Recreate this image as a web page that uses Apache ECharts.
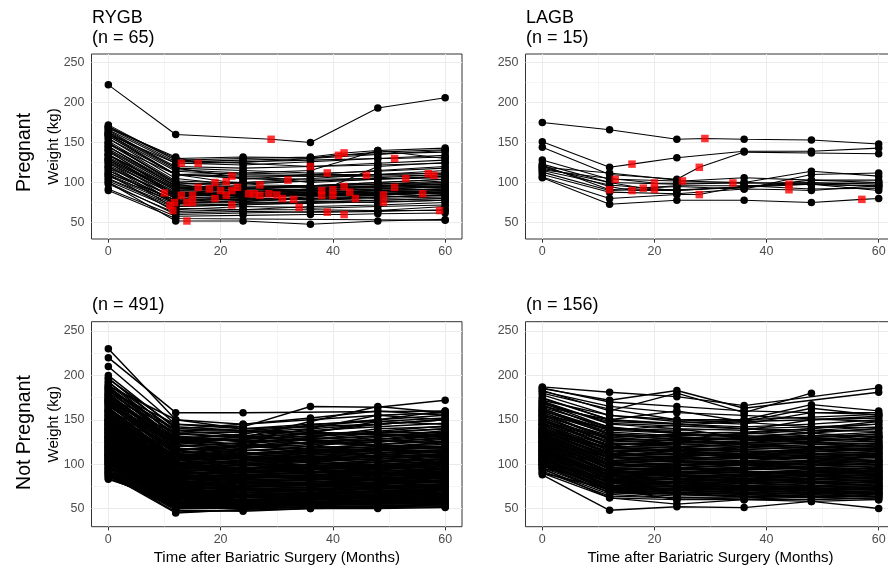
<!DOCTYPE html>
<html>
<head>
<meta charset="utf-8">
<script src="https://cdn.jsdelivr.net/npm/echarts@6/dist/echarts.min.js"></script>
<style>
html,body{margin:0;padding:0;background:#fff;}
#chart{width:888px;height:572px;}
</style>
</head>
<body>
<div id="chart"></div>
<script>
// ---------------- DATA ----------------
const months = [0, 12, 24, 36, 48, 60];
const xTicks = [0, 20, 40, 60];
const yTicks = [50, 100, 150, 200, 250];

const panelTitles = ['RYGB\n(n = 65)', 'LAGB\n(n = 15)', '(n = 491)', '(n = 156)'];
const rowLabels = ['Pregnant', 'Not Pregnant'];
const yTitle = 'Weight (kg)';
const xTitle = 'Time after Bariatric Surgery (Months)';

// Pregnant RYGB: weights at 0,12,24,36,48,60 months
const rygbPregWeights = [
  [222,160,null,150,193,206],[128,85,88,92,95,98],[118,70,72,75,78,80],[110,64,66,70,72,75],
  [125,74,77,80,82,85],[135,82,85,88,90,92],[160,124,122,126,130,134],[100,52,52,48,52,54],
  [120,74,76,80,84,88],[140,84,86,90,94,96],[115,73,78,82,85,87],[168,132,125,130,135,140],
  [150,98,92,95,98,102],[145,95,90,92,96,100],[155,105,98,102,106,110],[112,78,82,84,86,88],
  [138,92,88,90,92,95],[160,110,100,105,110,115],[130,86,82,85,88,90],[165,118,104,110,115,120],
  [142,93,88,92,95,98],[105,70,74,76,78,80],[148,100,92,96,100,104],[132,88,86,87,90,92],
  [126,84,87,88,90,92],[152,102,99,96,100,104],[122,80,84,86,88,90],[134,90,87,84,86,88],
  [118,82,86,83,85,87],[112,78,81,79,82,84],[158,110,105,100,104,108],[108,76,80,78,80,82],
  [102,66,70,68,70,72],[170,128,124,120,124,128],[140,94,92,90,92,94],[128,86,85,84,86,88],
  [162,118,115,112,114,118],[98,62,64,63,64,66],[145,96,93,91,92,95],[124,84,84,84,86,90],
  [168,126,128,130,136,138],[172,128,130,132,140,143],[150,100,96,94,96,98],[92,58,59,60,61,62],
  [135,90,89,88,90,92],[115,78,79,80,82,84],[155,110,108,108,110,112],[130,88,86,85,84,88],
  [110,74,75,76,75,78],[166,124,126,128,130,132],[142,96,94,94,94,96],[158,110,106,104,105,108],
  [128,86,86,86,86,86],[162,116,112,110,110,112],[160,114,110,108,108,110],[104,68,66,66,65,65],
  [170,130,132,131,138,141],[90,55,null,null,null,53],[148,110,112,115,140,130],[100,60,62,null,65,70],
  [145,98,100,102,104,106],[120,80,82,84,120,125],[135,92,94,96,98,100],[108,72,null,74,76,78],
  [163,120,118,120,122,124]
];
// Pregnancy time point [month, weight] per patient (null = none shown)
const rygbPregEvents = [
  [29,154],[10,87],[11,71.5],[11.5,65],[11.8,75],[13,84],[13,124],[14,52],
  [14,75],[15,84],[15,75],[16,124],[16,94],[18,92],[19,100],[19,80],
  [20,90],[21,101],[21,84],[22,108],[22,90],[22,72],[23,94],[25,86],
  [26,86],[27,97],[27,84],[28.6,86],[30,84.5],[31,80],[32,103],[33,79],
  [34,69],[36,120],[38,90],[38,84],[39,112],[39,63],[40,91],[40,84],
  [41,134],[42,137],[42,95],[42,60],[43,88],[44,80],[46,109],[49,84.5],
  [49,75.5],[51,130],[51,94],[53,105],[56,86],[57,111],[58,109],[59,65],
  null,null,null,null,null,null,null,null,null
];

// Pregnant LAGB
const lagbPregWeights = [
  [175,166,154,154,153,148],[151,119,131,139,139,143],[144,110,104,138,137,136],[128,104,102,100,98,95],
  [122,null,96,96,98,100],[120,95,90,94,103,100],[118,100,95,92,110,112],[116,105,99,100,114,108],
  [113,90,91,94,98,96],[119,112,103,106,103,103],[107,80,85,96,92,93],[123,100,98,99,100,98],
  [115,97,90,95,98,90],[110,88,86,92,90,96],[106,73,78,78,75,80]
];
const lagbPregEvents = [
  [29,155],[16,123],[28,119],[13,104],[12,91],[16,90],[18,93],[20,99.5],
  [20,91.5],[25,102],[28,85],[34,99.5],[44,98],[44,91],[57,79]
];

// Not pregnant RYGB (trajectories read from the dense band)
const rygbNotPregWeights = [
  [230,150,140,null,145,150],[220,158,158,null,null,160],[210,145,142,165,164,172],[200,140,145,152,160,155],
  [197,135,130,148,165,158],[193,130,128,140,155,150],[190,132,125,135,148,145],[186,128,122,130,140,142],
  [183,125,120,128,135,140],[180,122,118,125,130,138],[178,118,115,120,128,135],[176,120,124,130,126,132],
  [174,115,110,118,122,128],[172,112,108,112,118,125],[170,110,112,116,120,122],[168,108,104,110,115,120],
  [166,112,118,122,125,130],[164,106,102,105,110,116],[162,104,100,104,108,112],[160,102,98,102,106,110],
  [158,100,96,100,104,108],[157,106,110,114,118,120],[155,98,94,98,102,106],[154,104,106,108,112,115],
  [152,96,92,95,98,102],[151,100,98,104,110,114],[150,94,90,94,96,100],[149,98,104,106,108,112],
  [148,92,88,90,94,98],[147,96,95,100,104,106],[146,90,86,88,92,96],[145,94,96,98,100,104],
  [144,88,84,86,90,94],[143,92,94,96,98,100],[142,87,82,84,88,92],[141,90,90,92,95,98],
  [140,86,80,82,86,90],[139,88,92,94,96,98],[138,84,78,80,84,88],[137,86,88,90,92,95],
  [136,82,76,78,82,86],[135,84,86,88,90,92],[134,80,75,77,80,84],[133,82,84,86,88,90],
  [132,78,74,76,78,82],[131,80,82,84,86,88],[130,76,72,74,77,80],[129,78,80,82,84,86],
  [128,75,70,72,75,78],[127,76,78,80,82,84],[126,73,68,70,73,76],[125,75,76,78,80,82],
  [124,72,66,68,72,75],[123,73,74,76,78,80],[122,70,65,67,70,73],[121,72,72,74,76,78],
  [120,68,63,65,68,72],[119,70,70,72,74,76],[118,67,62,64,66,70],[117,68,68,70,72,74],
  [116,66,60,62,65,68],[115,66,66,68,70,72],[114,64,59,61,63,66],[113,65,64,66,68,70],
  [112,62,58,60,62,65],[111,63,62,64,66,68],[110,61,57,58,60,63],[109,62,60,62,64,66],
  [108,60,56,57,59,62],[107,60,59,60,62,64],[106,58,55,56,58,60],[105,58,57,58,60,62],
  [104,56,54,55,57,59],[103,57,56,57,58,60],[102,55,53,54,56,58],[101,55,55,56,57,58],
  [100,54,52,53,55,56],[98,53,53,54,55,56],[96,52,51,52,53,55],[94,50,50,51,52,53],
  [92,48,47,50,51,52],[90,46,48,50,50,51],[88,45,49,52,53,54],[86,52,54,55,56,57],
  [84,55,56,57,58,58],[83,58,60,62,63,64],[165,130,132,138,142,146],[170,135,136,140,145,150],
  [175,140,138,142,150,155],[160,125,128,132,136,140],[155,120,124,128,132,136],[150,115,120,124,128,132],
  [145,110,115,118,122,126],[140,108,112,116,120,124],[135,104,108,112,116,120],[130,100,104,108,110,114],
  [125,96,100,104,106,110],[120,92,96,98,102,106],[115,88,92,95,98,102],[110,84,88,90,94,98],
  [105,80,84,86,90,94],[100,76,80,82,86,90],[95,72,76,78,82,86],[90,68,72,74,78,82],
  [182,145,140,145,148,152],[188,150,145,150,155,158],[172,128,134,144,150,160],[168,124,128,136,145,150],
  [185,138,132,126,122,118],[160,118,112,108,104,100],[150,110,106,102,98,95],[140,100,96,92,90,88],
  [130,92,88,84,82,80],[120,84,80,78,76,74],[110,76,72,70,68,66],
  [188,128,126,128,131,134],[184,126,131,134,137,143],[179,121,116,113,116,119],[177,124,128,131,135,136],
  [173,118,113,112,115,116],[171,116,121,124,125,129],[169,114,109,106,108,111],[167,111,106,108,113,116],
  [163,108,112,115,116,119],[161,106,107,110,113,114],[159,104,100,97,100,103],[156,101,104,106,109,110],
  [153,100,102,103,106,109],[150,98,95,96,99,100],[148,96,99,100,102,105],[146,93,92,91,94,97],
  [144,92,95,96,97,101],[142,91,88,87,90,92],[140,89,92,94,97,98],[138,87,86,85,88,91],
  [136,86,88,91,92,94],[134,84,81,82,84,87],[132,82,85,86,89,90],[130,80,78,77,80,82],
  [128,79,80,83,84,86],[126,77,75,76,79,80],[124,76,79,80,82,85],[122,74,71,72,74,77],
  [120,72,74,77,78,80],[118,70,68,67,70,72],[116,69,70,72,75,76],[114,67,65,66,68,71],
  [112,66,68,71,72,74],[110,64,63,63,66,68],[108,63,65,66,68,71],[106,61,60,61,64,66],
  [104,60,62,64,65,68],[102,58,57,60,62,64],[100,57,60,62,63,66],[98,56,56,58,60,62],
  [96,55,58,60,61,64],[94,54,55,57,58,60],[92,53,55,56,58,61],[90,52,53,56,57,58],
  [88,51,53,54,56,57],[86,50,52,54,55,56],[196,142,138,136,134,132],[192,138,137,134,133,130],
  [186,134,130,127,126,124],[181,130,126,124,121,120],[178,126,122,120,118,117],[174,124,120,117,116,114]
];

// Not pregnant LAGB
const lagbNotPregWeights = [
  [187,181,176,166,null,186],[185,172,183,163,null,181],[183,160,180,158,180,null],[180,162,150,150,167,160],
  [175,150,160,148,163,155],[172,155,148,145,158,158],[170,145,140,138,150,152],[168,148,145,142,145,150],
  [166,140,138,140,142,145],[164,142,135,136,140,148],[162,138,140,130,135,140],[160,136,132,134,138,142],
  [158,134,130,128,132,136],[156,130,134,132,130,134],[154,132,128,130,128,132],[152,128,126,124,126,130],
  [150,126,124,126,128,128],[148,124,120,122,124,126],[146,122,122,120,122,124],[144,120,118,116,120,122],
  [142,118,116,118,118,120],[140,116,114,112,116,118],[139,114,116,114,114,116],[138,112,110,110,112,114],
  [137,110,112,108,110,112],[136,110,108,106,108,110],[135,108,106,108,106,108],[134,106,104,102,104,106],
  [133,104,106,104,102,104],[132,104,102,100,102,104],[131,102,100,102,100,102],[130,100,98,96,98,100],
  [129,98,100,98,96,98],[128,98,96,94,96,98],[127,96,94,96,94,96],[126,96,92,90,92,94],
  [125,94,94,92,90,92],[124,92,90,88,90,92],[123,92,92,90,88,90],[122,90,88,86,88,90],
  [121,90,86,88,86,88],[120,88,86,84,86,88],[119,88,84,86,84,86],[118,86,84,82,84,86],
  [117,86,82,84,82,84],[116,84,82,80,82,84],[115,84,80,82,80,82],[114,82,80,78,80,82],
  [113,82,78,80,78,80],[112,80,78,76,78,80],[111,80,76,78,76,78],[110,78,76,74,76,78],
  [109,78,74,76,74,76],[108,76,74,72,74,76],[107,76,72,74,72,74],[106,74,72,70,72,74],
  [105,74,70,72,70,72],[104,72,70,68,70,72],[103,72,68,70,68,70],[102,70,68,66,68,70],
  [100,70,66,68,66,68],[98,68,66,64,66,68],[96,68,64,66,64,66],[94,66,62,64,62,64],
  [92,64,62,62,60,62],[90,62,60,60,58,60],[88,48,52,51,58,50],[95,62,55,60,60,62],
  [100,72,60,62,64,66],[150,120,128,135,140,145],[140,118,124,130,136,140],[130,108,115,120,125,130],
  [120,100,108,112,118,122],[110,92,98,104,108,112],[100,84,90,96,100,104],[160,138,144,148,150,154],
  [145,112,118,124,130,134],[135,100,105,110,114,118],[125,90,95,100,104,108],[115,86,90,94,98,100],
  [105,80,84,88,92,96],[98,75,80,84,88,92],[90,72,76,80,84,86],[165,150,145,140,135,130],
  [155,140,135,130,125,120],[145,130,126,122,118,114],[135,118,114,110,106,102],[125,108,104,100,96,92],
  [115,100,96,92,88,84],[105,92,88,84,80,76],[95,82,78,74,70,66],
  [186,170,165,160,158,156],[182,165,158,155,151,148],[178,155,150,147,142,141],[174,150,146,150,153,156],
  [171,146,143,140,138,137],[169,141,136,135,132,131],[167,138,135,130,129,126],[163,134,131,128,127,125],
  [161,133,128,127,124,123],[159,128,127,124,123,120],[157,127,124,123,120,119],[155,124,123,120,119,116],
  [153,123,120,119,116,115],[151,120,119,116,115,112],[149,119,116,115,112,111],[147,116,115,112,111,108],
  [145,115,112,111,108,107],[143,112,111,108,107,104],[141,111,108,107,104,103],[139,108,107,104,103,100],
  [137,107,104,103,100,99],[135,104,103,100,99,96],[133,103,100,99,96,95],[131,100,99,96,95,92],
  [129,99,96,95,92,91],[127,96,95,92,91,88],[125,95,92,91,88,87],[123,92,91,88,87,84],
  [121,91,88,87,84,83],[119,88,87,84,83,80],[117,87,84,83,80,79],[115,84,83,80,79,76],
  [113,83,80,79,76,75],[111,80,79,76,75,72],[109,79,76,75,72,71],[107,76,75,72,71,68],
  [105,75,72,71,68,67],[103,72,71,68,67,64],[101,71,68,67,64,63],[99,68,67,64,63,60]
];

// ---------------- LAYOUT ----------------
const FONT = '"Liberation Sans", Arial, Helvetica, sans-serif';
const grids = [
  {left: 91.5, top: 54, width: 370.5, height: 185},
  {left: 525.5, top: 54, width: 370, height: 185},
  {left: 91.5, top: 321.7, width: 370.5, height: 205},
  {left: 525.5, top: 321.7, width: 370, height: 205}
];
const lineWidths = [1.05, 1.05, 1.5, 1.35];
const X_MIN = -3, X_MAX = 63, Y_MIN = 29.5, Y_MAX = 260.5;

const chart = echarts.init(document.getElementById('chart'), null, {renderer: 'canvas'});

const xAxes = grids.map((g, i) => ({
  type: 'value', gridIndex: i, min: X_MIN, max: X_MAX,
  axisLine: {show: false},
  axisTick: {show: true, length: 3.7, lineStyle: {color: '#333333', width: 1}, customValues: xTicks},
  axisLabel: {show: true, customValues: xTicks, color: '#4D4D4D', fontSize: 12.5, fontFamily: FONT, margin: 6},
  splitLine: {show: false}, minorSplitLine: {show: false}
}));
const yAxes = grids.map((g, i) => ({
  type: 'value', gridIndex: i, min: Y_MIN, max: Y_MAX,
  axisLine: {show: false},
  axisTick: {show: true, length: 3.7, lineStyle: {color: '#333333', width: 1}, customValues: yTicks},
  axisLabel: {show: true, customValues: yTicks, color: '#4D4D4D', fontSize: 12.5, fontFamily: FONT, margin: 7},
  splitLine: {show: false}, minorSplitLine: {show: false}
}));

const series = [];
const majorY = [50, 100, 150, 200, 250], minorY = [75, 125, 175, 225];
const majorX = [0, 20, 40, 60], minorX = [10, 30, 50];
grids.forEach((g, i) => {
  const ml = [];
  minorY.forEach(v => ml.push({yAxis: v, lineStyle: {color: '#EFEFEF', width: 0.6, type: 'solid'}}));
  minorX.forEach(v => ml.push({xAxis: v, lineStyle: {color: '#EFEFEF', width: 0.6, type: 'solid'}}));
  majorY.forEach(v => ml.push({yAxis: v, lineStyle: {color: '#EBEBEB', width: 1, type: 'solid'}}));
  majorX.forEach(v => ml.push({xAxis: v, lineStyle: {color: '#EBEBEB', width: 1, type: 'solid'}}));
  series.push({
    type: 'line', xAxisIndex: i, yAxisIndex: i, z: 1, silent: true,
    data: [[30, 100]], symbol: 'none', showSymbol: false, lineStyle: {opacity: 0},
    markLine: {z: 1, zlevel: 0, silent: true, symbol: ['none', 'none'], label: {show: false}, animation: false, data: ml}
  });
});

function addPanel(idx, weights, events) {
  weights.forEach((row, p) => {
    const pts = [];
    row.forEach((w, k) => { if (w != null) pts.push({value: [months[k], w]}); });
    const ev = events ? events[p] : null;
    if (ev) pts.push({value: [ev[0], ev[1]], symbol: 'none'});
    pts.sort((a, b) => a.value[0] - b.value[0]);
    series.push({
      type: 'line', xAxisIndex: idx, yAxisIndex: idx, z: 3, silent: true,
      data: pts, symbol: 'circle', symbolSize: 7.5, showSymbol: true, showAllSymbol: true,
      itemStyle: {color: '#000', borderWidth: 0, borderColor: '#000'},
      lineStyle: {color: '#000', width: lineWidths[idx]},
      emphasis: {disabled: true}, animation: false
    });
  });
  if (events) {
    series.push({
      type: 'scatter', xAxisIndex: idx, yAxisIndex: idx, z: 4, silent: true,
      data: events.filter(e => e), symbol: 'rect', symbolSize: 7.5,
      itemStyle: {color: '#FF0000', borderWidth: 0}, animation: false
    });
  }
}
addPanel(0, rygbPregWeights, rygbPregEvents);
addPanel(1, lagbPregWeights, lagbPregEvents);
addPanel(2, rygbNotPregWeights, null);
addPanel(3, lagbNotPregWeights, null);

function txt(x, y, text, size, opts) {
  return Object.assign({
    type: 'text', x: x, y: y, silent: true, z: 10,
    style: Object.assign({text: text, fill: '#000', font: size + 'px ' + FONT, textAlign: 'left', textVerticalAlign: 'middle'}, opts && opts.style)
  }, opts && opts.el);
}
const graphics = [
  txt(92, 18.5, 'RYGB', 18), txt(92, 38.5, '(n = 65)', 18),
  txt(526, 18.5, 'LAGB', 18), txt(526, 38.5, '(n = 15)', 18),
  txt(92, 305.5, panelTitles[2], 18), txt(526, 305.5, panelTitles[3], 18),
  txt(24.5, 152.5, rowLabels[0], 19.5, {el: {rotation: Math.PI / 2}, style: {textAlign: 'center'}}),
  txt(24.5, 432.5, rowLabels[1], 19.5, {el: {rotation: Math.PI / 2}, style: {textAlign: 'center'}}),
  txt(53.5, 146.5, yTitle, 15, {el: {rotation: Math.PI / 2}, style: {textAlign: 'center'}}),
  txt(53.5, 424.2, yTitle, 15, {el: {rotation: Math.PI / 2}, style: {textAlign: 'center'}}),
  txt(276.8, 558, xTitle, 15, {style: {textAlign: 'center'}}),
  txt(710.5, 558, xTitle, 15, {style: {textAlign: 'center'}})
];

chart.setOption({
  animation: false,
  backgroundColor: '#ffffff',
  grid: grids.map(g => Object.assign({show: true, backgroundColor: '#ffffff', borderColor: '#333333', borderWidth: 1, containLabel: false, outerBoundsMode: 'none'}, g)),
  xAxis: xAxes,
  yAxis: yAxes,
  series: series,
  graphic: graphics
});
</script>
</body>
</html>
